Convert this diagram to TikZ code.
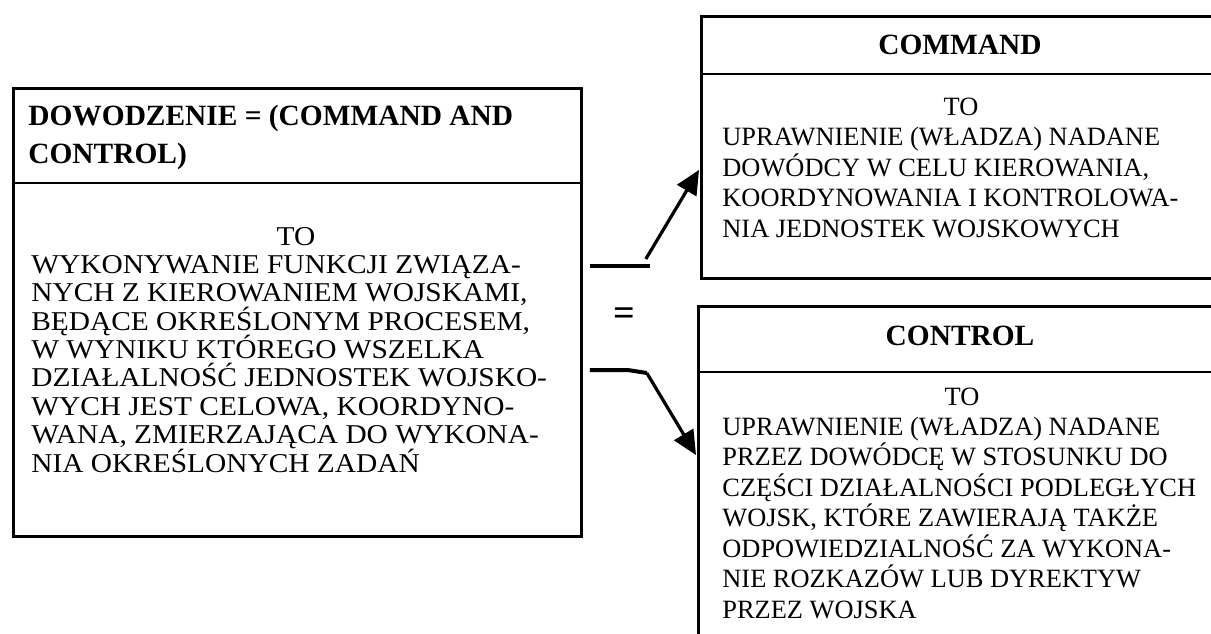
\documentclass[tikz,border=0pt]{standalone}
\usepackage{fontspec}
\setmainfont{Liberation Serif}
\newfontfamily\widefont[FakeStretch=1.08]{Liberation Serif}
\usetikzlibrary{arrows.meta, calc, positioning}
\setlength{\lineskiplimit}{-100pt}

\begin{document}
\begin{tikzpicture}[x=0.5pt,y=-0.5pt,
    box/.style={draw,line width=1.4pt,anchor=north west,inner sep=0pt},
    rule/.style={line width=0.8pt},
    head/.style={font=\fontsize{14.7}{19}\selectfont\bfseries,inner sep=0pt},
    bigtext/.style={font=\widefont\fontsize{13.6}{14.2}\selectfont,align=left,anchor=base west,inner sep=0pt},
    smalltext/.style={font=\fontsize{13.2}{15.25}\selectfont,align=left,anchor=base west,inner sep=0pt},
    stub/.style={line width=2pt},
    arr/.style={line width=1.6pt,-{Triangle[length=12pt,width=11pt]}}]
    \clip (0,0) rectangle (1211,633);

    \node[box,minimum width=284pt,minimum height=224pt] (dow) at (12,87) {};
    \node[box,minimum width=262pt,minimum height=131pt] (cmd) at (700,15) {};
    \node[box,minimum width=264pt,minimum height=175pt] (ctl) at (697,305) {};

    \draw[rule] (dow.west |- 0,183) -- (dow.east |- 0,183);
    \draw[rule] (cmd.west |- 0,74) -- (cmd.east |- 0,74);
    \draw[rule] (ctl.west |- 0,372) -- (ctl.east |- 0,372);

    \node[head,anchor=base west,align=left] (dowhead) at (28,163) {DOWODZENIE = (COMMAND AND\\CONTROL)};
    \node[head,anchor=base] (cmdhead) at (960,54) {COMMAND};
    \node[head,anchor=base] (ctlhead) at (960,345) {CONTROL};

    \node[font=\widefont\fontsize{13.6}{14.2}\selectfont,anchor=base,inner sep=0pt] (dowto) at (296,245) {TO};
    \node[font=\fontsize{13.2}{15.25}\selectfont,anchor=base,inner sep=0pt] (cmdto) at (961,115) {TO};
    \node[font=\fontsize{13.2}{15.25}\selectfont,anchor=base,inner sep=0pt] (ctlto) at (962,405) {TO};

    \node[bigtext] (dowtxt) at (31,472) {WYKONYWANIE FUNKCJI ZWIĄZA-\\
        NYCH Z KIEROWANIEM WOJSKAMI,\\
        BĘDĄCE OKREŚLONYM PROCESEM,\\
        W WYNIKU KTÓREGO WSZELKA\\
        DZIAŁALNOŚĆ JEDNOSTEK WOJSKO-\\
        WYCH JEST CELOWA, KOORDYNO-\\
        WANA, ZMIERZAJĄCA DO WYKONA-\\
        NIA OKREŚLONYCH ZADAŃ};
    \node[smalltext] (cmdtxt) at (722,237) {UPRAWNIENIE (WŁADZA) NADANE\\
        DOWÓDCY W CELU KIEROWANIA,\\
        KOORDYNOWANIA I KONTROLOWA-\\
        NIA JEDNOSTEK WOJSKOWYCH};
    \node[smalltext] (ctltxt) at (722,618) {UPRAWNIENIE (WŁADZA) NADANE\\
        PRZEZ DOWÓDCĘ W STOSUNKU DO\\
        CZĘŚCI DZIAŁALNOŚCI PODLEGŁYCH\\
        WOJSK, KTÓRE ZAWIERAJĄ TAKŻE\\
        ODPOWIEDZIALNOŚĆ ZA WYKONA-\\
        NIE ROZKAZÓW LUB DYREKTYW\\
        PRZEZ WOJSKA};

    \node[font=\fontsize{19}{19}\selectfont\bfseries,inner sep=0pt] (eq) at (624,317) {=};

    \coordinate (up0) at ($(dow.north east)+(7,179)$);
    \coordinate (up1) at ($(up0)+(60,0)$);
    \coordinate (up2) at ($(up1)+(-4,-7)$);
    \coordinate (lo0) at ($(dow.north east)+(7,283)$);
    \coordinate (lo1) at ($(lo0)+(38,0)$);
    \coordinate (lo2) at ($(lo1)+(19,3)$);

    \draw[stub] (up0) -- (up1);
    \draw[arr] (up2) -- ($(cmd.west |- 0,170)+(-1,0)$);
    \draw[stub] (lo0) -- (lo1) -- (lo2);
    \draw[arr] (lo2) -- ($(ctl.west |- 0,455)+(-1,0)$);
\end{tikzpicture}
\end{document}
